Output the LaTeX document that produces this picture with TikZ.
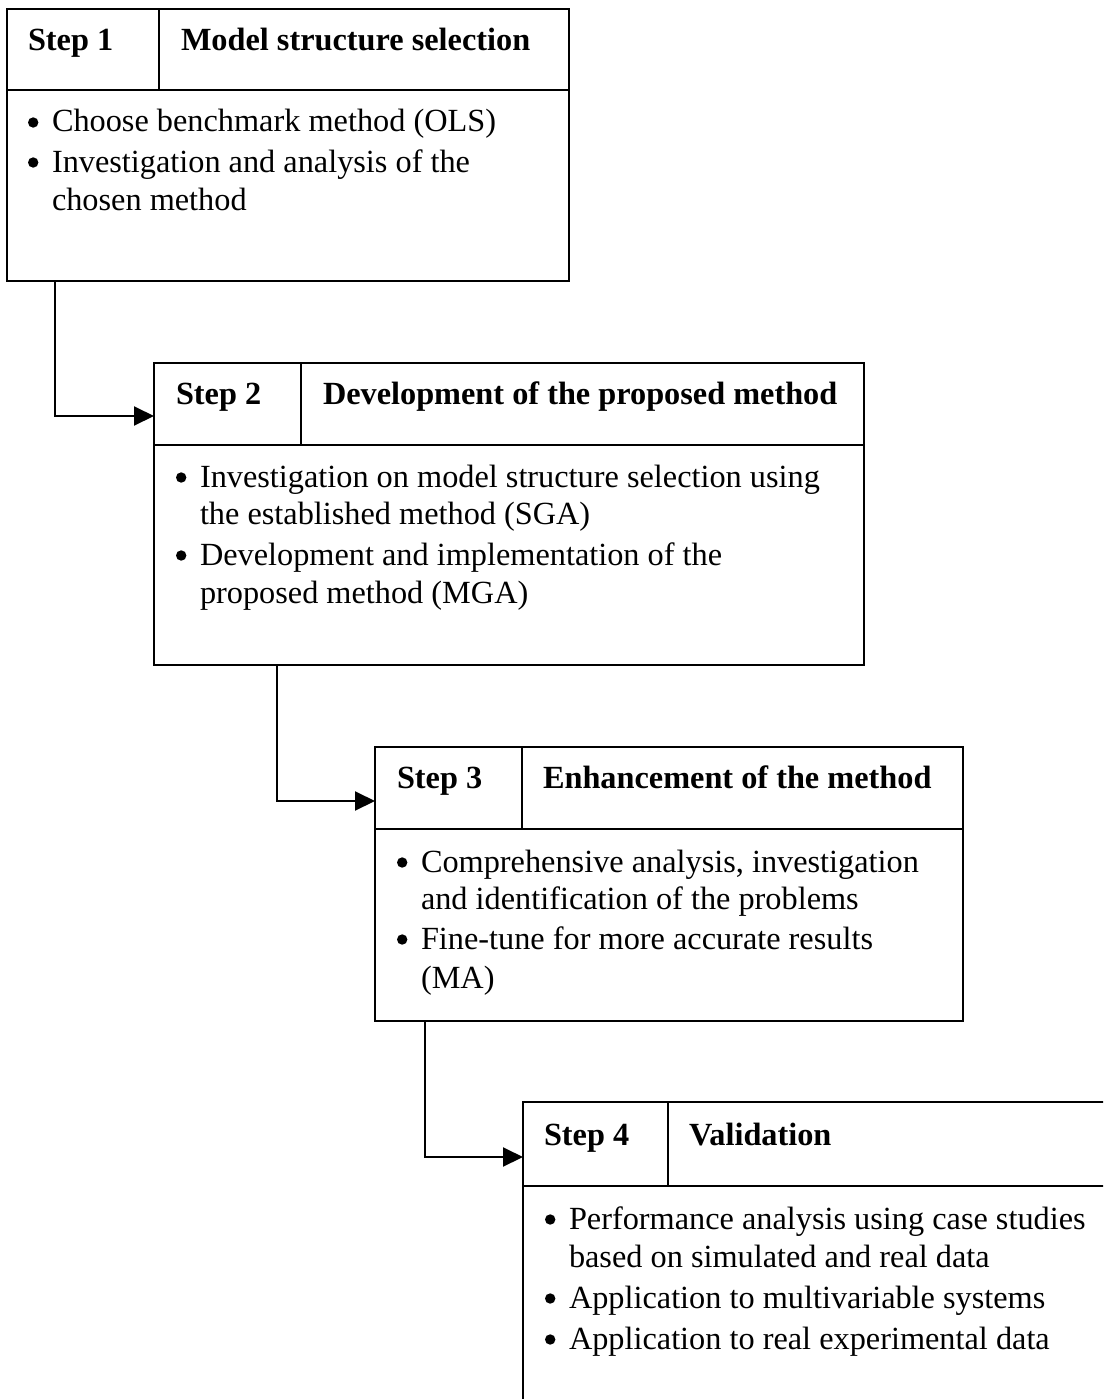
\documentclass[tikz,border=0pt]{standalone}
\usepackage{fontspec}
\setmainfont{Liberation Serif}
\usetikzlibrary{arrows.meta}
\newcommand{\bulmark}{\makebox[24pt][l]{\raisebox{4.3pt}{\tikz\fill (0,0) circle (5.2pt);}}}
\begin{document}
\begin{tikzpicture}[x=1pt,y=-1pt,
  every node/.style={inner sep=0pt,outer sep=0pt,font=\fontsize{32.3}{38}\selectfont},
  stepbox/.style={draw,line width=2pt,minimum height=#1,anchor=north west},
  rule/.style={line width=2pt},
  head/.style={anchor=base west,font=\fontsize{32.3}{38}\selectfont\bfseries},
  bodyline/.style={anchor=base west},
  flow/.style={line width=2pt,-{Triangle[length=20pt,width=19pt]}}]
\useasboundingbox (0,0) rectangle (1103,1399);
\clip (0,0) rectangle (1103,1399);
\fill[white] (0,0) rectangle (1103,1399);

% Step 1
\node[stepbox=272pt,minimum width=562pt] (b1) at (7,9) {};
\draw[rule] ([yshift=-81pt]b1.north west) -- ([yshift=-81pt]b1.north east);
\draw[rule] ([xshift=152pt]b1.north west) -- ([xshift=152pt,yshift=-81pt]b1.north west);
\node[head] (s1) at (28,51) {Step 1};
\node[head] (t1) at (181,51) {Model structure selection};
\node[bodyline] (b1a) at (28,132) {\bulmark Choose benchmark method (OLS)};
\node[bodyline] (b1b) at (28,172) {\bulmark Investigation and analysis of the};
\node[bodyline] (b1c) at (28,210) {\hspace*{24pt}chosen method};

% Step 2
\node[stepbox=302pt,minimum width=710pt] (b2) at (154,363) {};
\draw[rule] ([yshift=-82pt]b2.north west) -- ([yshift=-82pt]b2.north east);
\draw[rule] ([xshift=147pt]b2.north west) -- ([xshift=147pt,yshift=-82pt]b2.north west);
\node[head] (s2) at (176,404) {Step 2};
\node[head] (t2) at (323,404) {Development of the proposed method};
\node[bodyline] (b2a) at (176,487) {\bulmark Investigation on model structure selection using};
\node[bodyline] (b2b) at (176,524) {\hspace*{24pt}the established method (SGA)};
\node[bodyline] (b2c) at (176,565) {\bulmark Development and implementation of the};
\node[bodyline] (b2d) at (176,603) {\hspace*{24pt}proposed method (MGA)};

% Step 3
\node[stepbox=274pt,minimum width=588pt] (b3) at (375,747) {};
\draw[rule] ([yshift=-82pt]b3.north west) -- ([yshift=-82pt]b3.north east);
\draw[rule] ([xshift=147pt]b3.north west) -- ([xshift=147pt,yshift=-82pt]b3.north west);
\node[head] (s3) at (397,788) {Step 3};
\node[head] (t3) at (543,788) {Enhancement of the method};
\node[bodyline] (b3a) at (397,872) {\bulmark Comprehensive analysis, investigation};
\node[bodyline] (b3b) at (397,909) {\hspace*{24pt}and identification of the problems};
\node[bodyline] (b3c) at (397,949) {\bulmark Fine-tune for more accurate results};
\node[bodyline] (b3d) at (397,988) {\hspace*{24pt}(MA)};

% Step 4 (runs off the page)
\node[stepbox=360pt,minimum width=620pt] (b4) at (523,1102) {};
\draw[rule] ([yshift=-84pt]b4.north west) -- ([yshift=-84pt]b4.north east);
\draw[rule] ([xshift=145pt]b4.north west) -- ([xshift=145pt,yshift=-84pt]b4.north west);
\node[head] (s4) at (544,1145) {Step 4};
\node[head] (t4) at (689,1145) {Validation};
\node[bodyline] (b4a) at (545,1229) {\bulmark Performance analysis using case studies};
\node[bodyline] (b4b) at (545,1267) {\hspace*{24pt}based on simulated and real data};
\node[bodyline] (b4c) at (545,1308) {\bulmark Application to multivariable systems};
\node[bodyline] (b4d) at (545,1349) {\bulmark Application to real experimental data};

% Connectors
\draw[flow] ([xshift=48pt]b1.south west) |- ([yshift=-53pt]b2.north west);
\draw[flow] ([xshift=123pt]b2.south west) |- ([yshift=-54pt]b3.north west);
\draw[flow] ([xshift=50pt]b3.south west) |- ([yshift=-55pt]b4.north west);
\end{tikzpicture}
\end{document}
